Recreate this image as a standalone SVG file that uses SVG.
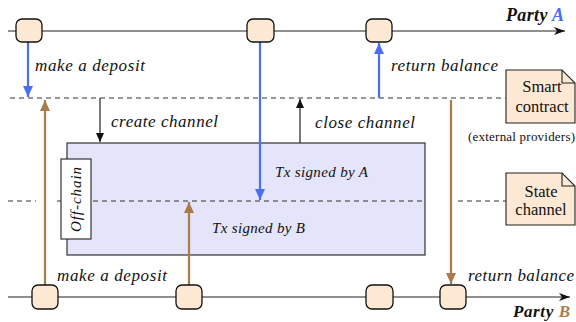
<svg xmlns="http://www.w3.org/2000/svg" width="576" height="322" viewBox="0 0 576 322">
<defs>
<marker id="mBlue" markerUnits="userSpaceOnUse" markerWidth="12" markerHeight="12" viewBox="0 0 12 12" refX="11" refY="6" orient="auto">
<path d="M0,1 L11,6 L0,11 Z" fill="#4a6ff5"/>
</marker>
<marker id="mBrown" markerUnits="userSpaceOnUse" markerWidth="12" markerHeight="12" viewBox="0 0 12 12" refX="11" refY="6" orient="auto">
<path d="M0,1 L11,6 L0,11 Z" fill="#a97c4a"/>
</marker>
<marker id="mBlk" markerUnits="userSpaceOnUse" markerWidth="10" markerHeight="10" viewBox="0 0 10 10" refX="9" refY="5" orient="auto">
<path d="M0,1 L9,5 L0,9 Z" fill="#111"/>
</marker>
<marker id="mAxis" markerUnits="userSpaceOnUse" markerWidth="12" markerHeight="12" viewBox="0 0 12 12" refX="11" refY="6" orient="auto">
<path d="M0,2 L11,6 L0,10 L3,6 Z" fill="#111"/>
</marker>
</defs>

<g id="axes" stroke="#222" stroke-width="1.2" fill="none">
<line x1="8" y1="31" x2="565" y2="31" marker-end="url(#mAxis)"/>
<line x1="8" y1="297" x2="570" y2="297" marker-end="url(#mAxis)"/>
</g>
<text style="font-family:'Liberation Serif',serif;font-style:italic;font-weight:bold;font-size:18px" fill="#111" x="506" y="21" textLength="58" lengthAdjust="spacing">Party <tspan fill="#4a6ff5">A</tspan></text>
<text style="font-family:'Liberation Serif',serif;font-style:italic;font-weight:bold;font-size:17px" fill="#111" x="513" y="317" textLength="57" lengthAdjust="spacing">Party <tspan fill="#a97c4a">B</tspan></text>

<g id="offchain-area">
<rect x="67" y="143" width="358" height="112" fill="#e4e4fb" stroke="#333" stroke-width="1.2"/>
</g>

<g id="levels" stroke="#333" stroke-width="1" stroke-dasharray="5,4" fill="none">
<line x1="10" y1="98" x2="506" y2="98"/>
<line x1="8" y1="201" x2="36" y2="201"/>
<line x1="57" y1="201" x2="425" y2="201"/>
<line x1="458" y1="201" x2="506" y2="201"/>
</g>

<g id="offchain-label">
<rect x="61" y="159" width="30" height="80" fill="#fff" stroke="#222" stroke-width="1.1"/>
<text style="font-family:'Liberation Serif',serif;font-style:italic;font-size:15px" fill="#111" transform="translate(81,232) rotate(-90)" x="0" y="0" textLength="65" lengthAdjust="spacing">Off-chain</text>
</g>

<g id="connectors" fill="none">
<g stroke="#4a6ff5" stroke-width="2.2">
<line x1="28" y1="42" x2="28" y2="97" marker-end="url(#mBlue)"/>
<line x1="260" y1="42" x2="260" y2="200" marker-end="url(#mBlue)"/>
<line x1="379" y1="98" x2="379" y2="43" marker-end="url(#mBlue)"/>
</g>
<g stroke="#a97c4a" stroke-width="2.2">
<line x1="45" y1="285" x2="45" y2="100" marker-end="url(#mBrown)"/>
<line x1="189" y1="285" x2="189" y2="202" marker-end="url(#mBrown)"/>
<line x1="451" y1="100" x2="451" y2="284" marker-end="url(#mBrown)"/>
</g>
<g stroke="#222" stroke-width="1.2">
<line x1="100" y1="98" x2="100" y2="142" marker-end="url(#mBlk)"/>
<line x1="300" y1="143" x2="300" y2="99" marker-end="url(#mBlk)"/>
</g>
</g>

<g id="labels" fill="#111">
<text style="font-family:'Liberation Serif',serif;font-style:italic;font-size:17px" x="35" y="71" textLength="110" lengthAdjust="spacing">make a deposit</text>
<text style="font-family:'Liberation Serif',serif;font-style:italic;font-size:17px" x="391" y="71" textLength="107" lengthAdjust="spacing">return balance</text>
<text style="font-family:'Liberation Serif',serif;font-style:italic;font-size:17px" x="111" y="127" textLength="107" lengthAdjust="spacing">create channel</text>
<text style="font-family:'Liberation Serif',serif;font-style:italic;font-size:17px" x="315" y="128" textLength="100" lengthAdjust="spacing">close channel</text>
<text style="font-family:'Liberation Serif',serif;font-style:italic;font-size:15px" x="275" y="177" textLength="93" lengthAdjust="spacing">Tx signed by A</text>
<text style="font-family:'Liberation Serif',serif;font-style:italic;font-size:15px" x="212" y="233" textLength="93" lengthAdjust="spacing">Tx signed by B</text>
<text style="font-family:'Liberation Serif',serif;font-style:italic;font-size:17px" x="57" y="281" textLength="110" lengthAdjust="spacing">make a deposit</text>
<text style="font-family:'Liberation Serif',serif;font-style:italic;font-size:17px" x="468" y="281" textLength="106" lengthAdjust="spacing">return balance</text>
</g>

<g id="nodeA1" fill="#fde9d3" stroke="#111" stroke-width="1.3"><rect x="16" y="19" width="26" height="23" rx="6"/></g>
<g id="nodeA2" fill="#fde9d3" stroke="#111" stroke-width="1.3"><rect x="247" y="19" width="27" height="23" rx="6"/></g>
<g id="nodeA3" fill="#fde9d3" stroke="#111" stroke-width="1.3"><rect x="366" y="19" width="26" height="23" rx="6"/></g>
<g id="nodeB1" fill="#fde9d3" stroke="#111" stroke-width="1.3"><rect x="32" y="285" width="26" height="24" rx="6"/></g>
<g id="nodeB2" fill="#fde9d3" stroke="#111" stroke-width="1.3"><rect x="176" y="285" width="26" height="24" rx="6"/></g>
<g id="nodeB3" fill="#fde9d3" stroke="#111" stroke-width="1.3"><rect x="366" y="285" width="27" height="24" rx="6"/></g>
<g id="nodeB4" fill="#fde9d3" stroke="#111" stroke-width="1.3"><rect x="440" y="285" width="26" height="24" rx="6"/></g>

<g id="smart-contract">
<path d="M506,70 H562 L575,83 V123 H506 Z" fill="#fde9d3" stroke="#222" stroke-width="1.1"/>
<path d="M562,70 V83 H575" fill="none" stroke="#222" stroke-width="1.1"/>
<text style="font-family:'Liberation Serif',serif;font-size:16.5px" fill="#111" x="542" y="92" text-anchor="middle">Smart</text>
<text style="font-family:'Liberation Serif',serif;font-size:16.5px" fill="#111" x="542" y="112" text-anchor="middle">contract</text>
<text style="font-family:'Liberation Serif',serif;font-size:13px" fill="#111" x="468" y="141" textLength="107" lengthAdjust="spacing">(external providers)</text>
</g>

<g id="state-channel">
<path d="M506,173 H562 L575,186 V225 H506 Z" fill="#fde9d3" stroke="#222" stroke-width="1.1"/>
<path d="M562,173 V186 H575" fill="none" stroke="#222" stroke-width="1.1"/>
<text style="font-family:'Liberation Serif',serif;font-size:16.5px" fill="#111" x="541" y="197" text-anchor="middle">State</text>
<text style="font-family:'Liberation Serif',serif;font-size:16.5px" fill="#111" x="541" y="215" text-anchor="middle">channel</text>
</g>
</svg>
